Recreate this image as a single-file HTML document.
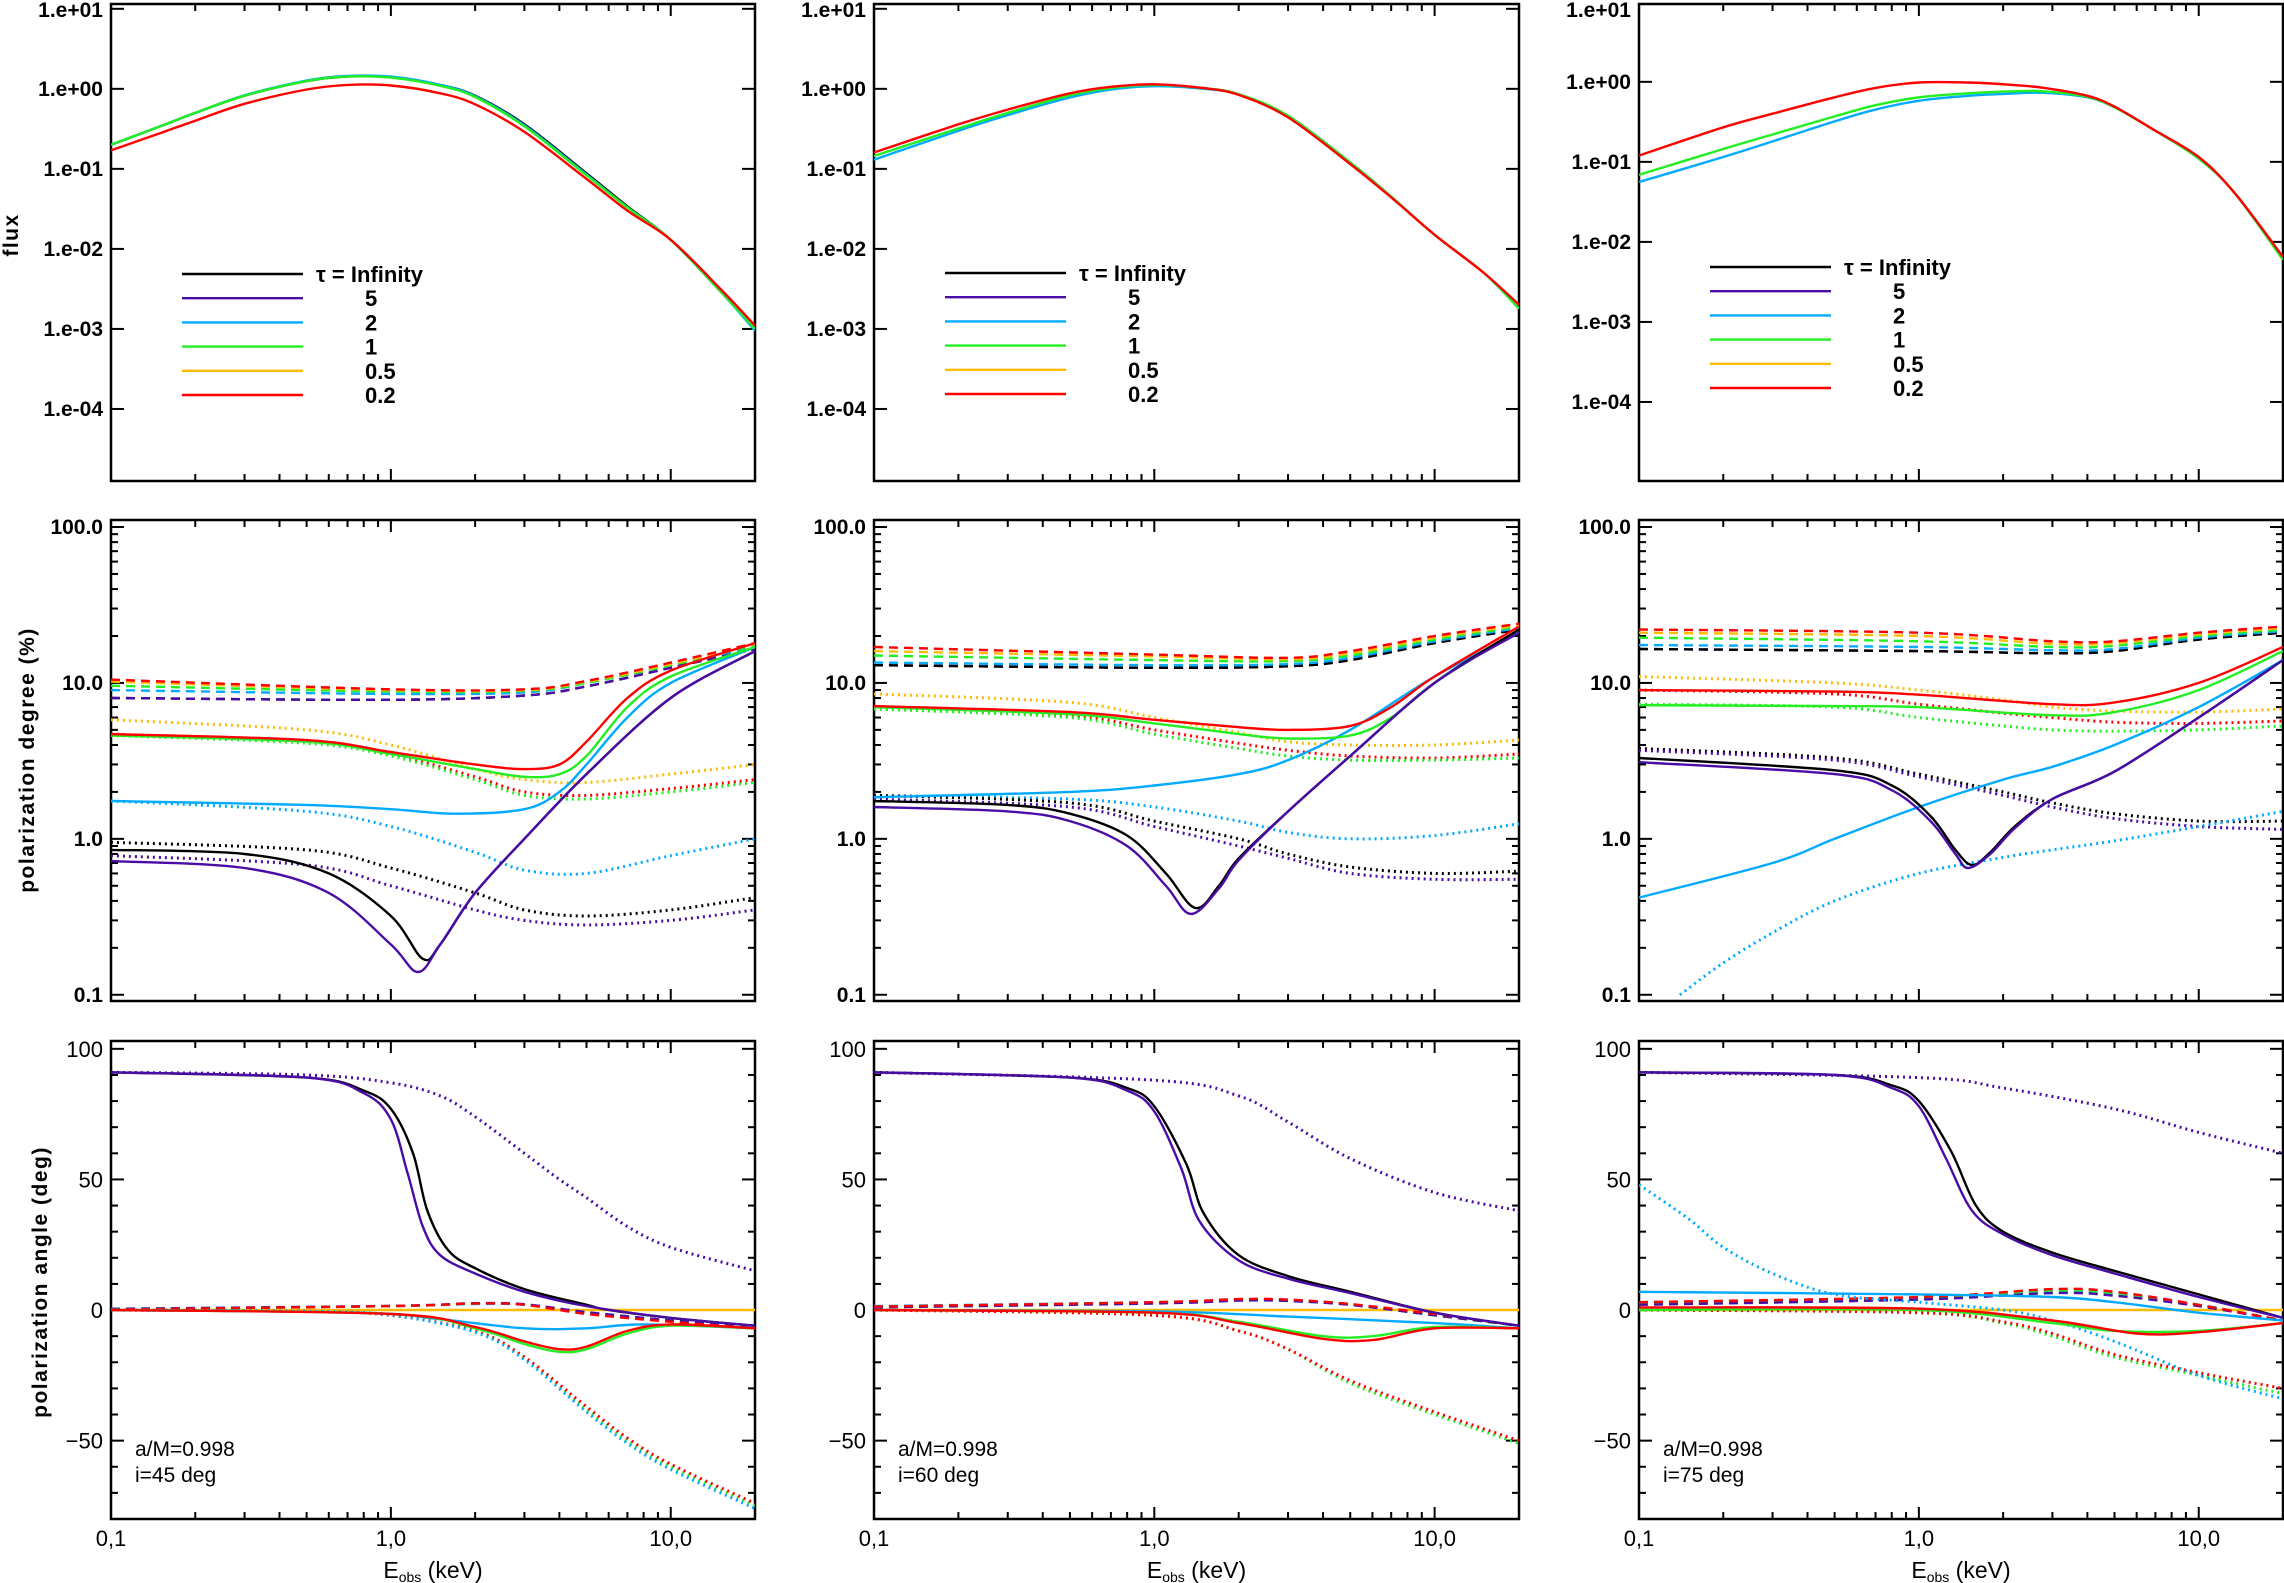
<!DOCTYPE html>
<html><head><meta charset="utf-8">
<style>
html,body{margin:0;padding:0;background:#fff;}
svg{display:block;font-family:"Liberation Sans",sans-serif;}
</style></head>
<body>
<svg id="fig" width="2284" height="1583" viewBox="0 0 2284 1583" xmlns="http://www.w3.org/2000/svg"></svg>
<script>
// ---------- data ----------
const seriesNames = ["inf","5","2","1","0.5","0.2"];
const seriesColors = ["#000000","#4a0ca6","#00aaff","#22ee22","#ffbb00","#ff0000"];
const legendLabels = ["τ = Infinity","5","2","1","0.5","0.2"];
const incLabels = ["i=45 deg","i=60 deg","i=75 deg"];

const flux45 = [
 [0,[[0.1,0.2],[0.15,0.34],[0.2,0.5],[0.3,0.82],[0.5,1.25],[0.7,1.43],[1,1.4],[1.5,1.12],[2,0.82],[3,0.36],[5,0.088],[7,0.034],[10,0.013],[15,0.003],[20,0.001]]],
 [2,[[0.1,0.2],[0.15,0.34],[0.2,0.5],[0.3,0.83],[0.5,1.27],[0.7,1.45],[1,1.42],[1.5,1.12],[2,0.81],[3,0.35],[5,0.085],[7,0.033],[10,0.013],[15,0.003],[20,0.00095]]],
 [3,[[0.1,0.2],[0.15,0.34],[0.2,0.5],[0.3,0.82],[0.5,1.25],[0.7,1.42],[1,1.38],[1.5,1.09],[2,0.79],[3,0.34],[5,0.083],[7,0.033],[10,0.013],[15,0.003],[20,0.001]]],
 [5,[[0.1,0.17],[0.15,0.28],[0.2,0.4],[0.3,0.65],[0.5,0.98],[0.7,1.12],[1,1.1],[1.5,0.88],[2,0.64],[3,0.29],[5,0.075],[7,0.03],[10,0.013],[15,0.0032],[20,0.0011]]]
];
const flux60 = [
 [2,[[0.1,0.13],[0.2,0.3],[0.3,0.47],[0.5,0.78],[0.7,0.98],[1,1.08],[1.5,1.0],[2,0.85],[3,0.46],[5,0.12],[7,0.045],[10,0.015],[15,0.005],[20,0.0018]]],
 [3,[[0.1,0.145],[0.2,0.32],[0.3,0.5],[0.5,0.83],[0.7,1.02],[1,1.12],[1.5,1.02],[2,0.86],[3,0.46],[5,0.12],[7,0.045],[10,0.015],[15,0.005],[20,0.0018]]],
 [5,[[0.1,0.16],[0.2,0.36],[0.3,0.55],[0.5,0.88],[0.7,1.06],[1,1.14],[1.5,1.02],[2,0.84],[3,0.44],[5,0.115],[7,0.044],[10,0.015],[15,0.005],[20,0.002]]]
];
const flux75 = [
 [2,[[0.1,0.056],[0.2,0.115],[0.3,0.18],[0.5,0.32],[0.7,0.45],[1,0.58],[1.5,0.67],[2.1,0.71],[2.8,0.73],[4,0.64],[5,0.48],[6.8,0.26],[10,0.11],[13.5,0.04],[20,0.006]]],
 [3,[[0.1,0.069],[0.2,0.145],[0.3,0.22],[0.5,0.37],[0.7,0.51],[1,0.64],[1.5,0.72],[2.1,0.76],[2.8,0.76],[4,0.65],[5,0.48],[6.8,0.26],[10,0.11],[13.5,0.04],[20,0.006]]],
 [5,[[0.1,0.12],[0.2,0.27],[0.3,0.4],[0.5,0.64],[0.7,0.84],[1,0.98],[1.5,0.98],[2.1,0.92],[2.8,0.84],[4,0.67],[5,0.49],[6.8,0.26],[10,0.115],[13.5,0.04],[20,0.0065]]]
];

const pd45 = [
 [0,"dash",[[0.1,8],[1,7.8],[3,8.3],[5,9.5],[10,12.5],[20,16.5]]],
 [1,"dash",[[0.1,8],[1,7.8],[3,8.3],[5,9.5],[10,12.5],[20,16.5]]],
 [2,"dash",[[0.1,9],[1,8.5],[3,8.7],[5,10],[10,13],[20,17]]],
 [3,"dash",[[0.1,9.6],[1,8.8],[3,8.9],[5,10],[10,13],[20,17.5]]],
 [4,"dash",[[0.1,10.2],[1,9],[3,9],[5,10.2],[10,13.2],[20,17.8]]],
 [5,"dash",[[0.1,10.5],[1,9.1],[3,9.1],[5,10.3],[10,13.5],[20,18]]],
 [4,"dot",[[0.1,5.8],[0.5,5],[1,4],[2,2.8],[3,2.4],[5,2.3],[10,2.6],[20,3.0]]],
 [5,"dot",[[0.1,4.7],[0.5,4.2],[1,3.5],[2,2.5],[3,2.0],[5,1.9],[10,2.1],[20,2.4]]],
 [3,"dot",[[0.1,4.6],[0.5,4.1],[1,3.4],[2,2.4],[3,1.9],[5,1.8],[10,2.0],[20,2.3]]],
 [2,"dot",[[0.1,1.75],[0.5,1.5],[1,1.2],[2,0.82],[3,0.63],[5,0.6],[10,0.78],[20,1.0]]],
 [0,"dot",[[0.1,0.95],[0.5,0.85],[1,0.65],[2,0.45],[3,0.35],[5,0.32],[10,0.35],[20,0.42]]],
 [1,"dot",[[0.1,0.78],[0.5,0.68],[1,0.5],[2,0.35],[3,0.3],[5,0.28],[10,0.3],[20,0.35]]],
 [2,"solid",[[0.1,1.75],[0.5,1.65],[1,1.55],[1.7,1.45],[3,1.55],[4,2.0],[5,3.0],[7,6],[10,10],[20,17]]],
 [3,"solid",[[0.1,4.6],[0.5,4.2],[1,3.5],[2,2.8],[3,2.5],[4,2.6],[5,3.4],[7,7],[10,11],[20,17]]],
 [5,"solid",[[0.1,4.7],[0.5,4.3],[1,3.6],[2,3.0],[3,2.8],[4,3.0],[5,4.2],[7,8],[10,12],[20,18]]],
 [0,"solid",[[0.1,0.85],[0.3,0.8],[0.6,0.6],[1.0,0.32],[1.3,0.17],[1.5,0.21],[2,0.45],[3,1.0],[5,2.6],[10,8],[20,16]]],
 [1,"solid",[[0.1,0.72],[0.3,0.65],[0.6,0.45],[1.0,0.21],[1.25,0.14],[1.5,0.21],[2,0.45],[3,1.0],[5,2.6],[10,8],[20,16]]]
];
const pd60 = [
 [1,"dash",[[0.1,13],[1,12.5],[3,12.8],[5,14],[10,18],[20,22]]],
 [0,"dash",[[0.1,13],[1,12.5],[3,12.8],[5,14],[10,18],[20,22]]],
 [2,"dash",[[0.1,13.5],[1,13],[3,13.2],[5,14.5],[10,18.5],[20,22.5]]],
 [3,"dash",[[0.1,15],[1,14],[3,13.8],[5,15],[10,19],[20,23]]],
 [4,"dash",[[0.1,16],[1,14.8],[3,14.2],[5,15.5],[10,19.5],[20,23.5]]],
 [5,"dash",[[0.1,17],[1,15.2],[3,14.5],[5,16],[10,20],[20,24]]],
 [4,"dot",[[0.1,8.5],[0.5,7.5],[1,6],[2,4.8],[3,4.2],[5,4],[10,4],[20,4.3]]],
 [5,"dot",[[0.1,7],[0.5,6.2],[1,5],[2,4.1],[3,3.7],[5,3.4],[10,3.3],[20,3.5]]],
 [3,"dot",[[0.1,6.8],[0.5,6],[1,4.7],[2,3.8],[3,3.4],[5,3.2],[10,3.2],[20,3.3]]],
 [2,"dot",[[0.1,1.9],[0.5,1.8],[1,1.6],[2,1.3],[3,1.1],[5,1.0],[10,1.05],[20,1.25]]],
 [0,"dot",[[0.1,1.9],[0.5,1.7],[1,1.3],[2,1.0],[3,0.8],[5,0.66],[10,0.6],[20,0.62]]],
 [1,"dot",[[0.1,1.8],[0.5,1.6],[1,1.2],[2,0.9],[3,0.75],[5,0.6],[10,0.55],[20,0.55]]],
 [2,"solid",[[0.1,1.85],[0.5,2.0],[1,2.2],[2,2.6],[3,3.2],[5,5],[10,11],[20,21]]],
 [3,"solid",[[0.1,7],[0.5,6.3],[1,5.5],[2,4.7],[3,4.4],[5,4.6],[7,6],[10,10],[20,22]]],
 [5,"solid",[[0.1,7.1],[0.5,6.5],[1,5.8],[2,5.2],[3,5.0],[5,5.3],[7,7],[10,11],[20,23]]],
 [0,"solid",[[0.1,1.75],[0.3,1.65],[0.5,1.45],[0.8,1.05],[1.1,0.6],[1.4,0.36],[1.7,0.5],[2,0.75],[3,1.5],[5,3.4],[10,10],[20,22]]],
 [1,"solid",[[0.1,1.6],[0.3,1.5],[0.5,1.3],[0.8,0.9],[1.1,0.5],[1.35,0.33],[1.7,0.48],[2,0.73],[3,1.5],[5,3.4],[10,10],[20,21]]]
];
const pd75 = [
 [1,"dash",[[0.1,16.5],[1,16],[3,15.5],[5,16],[10,19],[20,21]]],
 [0,"dash",[[0.1,16.5],[1,16],[3,15.5],[5,16],[10,19],[20,21]]],
 [2,"dash",[[0.1,17.5],[1,17],[3,16.2],[5,16.5],[10,19.5],[20,21.5]]],
 [3,"dash",[[0.1,19.5],[1,18.5],[3,17],[5,17.3],[10,20],[20,22]]],
 [4,"dash",[[0.1,21],[1,20],[3,17.8],[5,18],[10,20.5],[20,22.5]]],
 [5,"dash",[[0.1,22],[1,21],[3,18.5],[5,18.5],[10,21],[20,23]]],
 [4,"dot",[[0.1,11],[0.5,10],[1,9],[2,7.8],[3,7],[5,6.6],[10,6.5],[20,6.8]]],
 [5,"dot",[[0.1,9],[0.5,8.5],[1,7.3],[2,6.4],[3,6],[5,5.6],[10,5.5],[20,5.7]]],
 [3,"dot",[[0.1,7.3],[0.5,7],[1,6],[2,5.3],[3,5],[5,4.9],[10,5],[20,5.3]]],
 [0,"dot",[[0.1,3.8],[0.5,3.3],[1,2.6],[2,2.0],[3,1.7],[5,1.45],[10,1.3],[20,1.3]]],
 [1,"dot",[[0.1,3.7],[0.5,3.2],[1,2.5],[2,1.9],[3,1.6],[5,1.35],[10,1.2],[20,1.15]]],
 [2,"dot",[[0.14,0.1],[0.2,0.16],[0.3,0.25],[0.5,0.4],[1,0.6],[2,0.76],[3,0.85],[5,0.97],[10,1.2],[20,1.5]]],
 [3,"solid",[[0.1,7.2],[0.5,7.1],[1,7],[3,6.2],[5,6.5],[10,9],[20,16]]],
 [5,"solid",[[0.1,9],[0.5,8.8],[1,8.4],[3,7.3],[5,7.5],[10,10],[20,17]]],
 [2,"solid",[[0.1,0.42],[0.3,0.7],[0.5,1.0],[1,1.6],[2,2.4],[3,2.9],[5,4],[10,7],[20,14]]],
 [0,"solid",[[0.1,3.3],[0.5,2.75],[0.8,2.2],[1.1,1.4],[1.35,0.85],[1.55,0.68],[1.8,0.82],[2.2,1.2],[3,1.8],[5,2.7],[10,6],[20,14]]],
 [1,"solid",[[0.1,3.1],[0.5,2.6],[0.8,2.05],[1.1,1.3],[1.35,0.8],[1.5,0.65],[1.8,0.8],[2.2,1.17],[3,1.8],[5,2.7],[10,6],[20,14]]]
];

const pa45 = [
 [4,"solid",[[0.1,0],[20,0]]],
 [2,"dash",[[0.1,0.5],[1,1.5],[2,2.3],[3,2],[5,-1],[10,-4],[20,-7]]],
 [3,"dash",[[0.1,0.3],[1,1.5],[2,2.5],[3,2.2],[5,-1],[10,-4],[20,-7]]],
 [1,"dash",[[0.1,0.4],[1,1.6],[2,2.6],[3,2.2],[5,-0.8],[10,-4],[20,-7]]],
 [5,"dash",[[0.1,0.2],[1,1.5],[2,2.5],[3,2],[5,-1.5],[10,-4.5],[20,-7]]],
 [3,"dot",[[0.1,0],[0.5,-0.5],[1,-2],[2,-8],[3,-18],[5,-38],[7,-50],[10,-60],[20,-75]]],
 [5,"dot",[[0.1,0],[0.5,-0.5],[1,-2],[2,-8],[3,-18],[5,-37],[7,-49],[10,-59],[20,-74]]],
 [2,"dot",[[0.1,0],[0.5,-0.5],[1,-2],[2,-8.5],[3,-19],[5,-39],[7,-51],[10,-61],[20,-76]]],
 [1,"dot",[[0.1,91],[0.5,90],[1,87],[1.5,82],[2,74],[3,60],[4,50],[5,43],[7,32],[10,24],[20,15]]],
 [2,"solid",[[0.1,0],[0.8,-1],[1.5,-3.5],[3,-7],[5,-7],[8,-5.5],[20,-7]]],
 [3,"solid",[[0.1,0],[1,-1.5],[2,-7],[3,-13],[4,-16],[5,-15],[7,-9],[10,-6],[20,-7]]],
 [5,"solid",[[0.1,0],[1,-1.5],[2,-6.5],[3,-12],[4,-15],[5,-14],[7,-8],[10,-5.5],[20,-7]]],
 [0,"solid",[[0.1,91],[0.5,89],[0.8,84],[1.0,77],[1.2,60],[1.35,38],[1.6,23],[2,16],[3,8],[5,2],[6,0],[10,-3],[20,-6]]],
 [1,"solid",[[0.1,91],[0.5,89],[0.8,83],[1.0,73],[1.15,52],[1.3,32],[1.5,21],[2,14],[3,7],[5,1.5],[10,-3],[20,-6]]]
];
const pa60 = [
 [4,"solid",[[0.1,0],[20,0]]],
 [2,"dash",[[0.1,1.5],[1,3],[2,4],[3,3.5],[5,2],[10,-2],[20,-6]]],
 [3,"dash",[[0.1,1.2],[1,2.8],[2,4],[3,3.8],[5,2.2],[10,-2],[20,-6]]],
 [1,"dash",[[0.1,1],[1,2.5],[2,3.6],[3,3.5],[5,2],[10,-2],[20,-6]]],
 [5,"dash",[[0.1,1.3],[1,3],[2,4.2],[3,4],[5,2.3],[10,-1.5],[20,-6]]],
 [3,"dot",[[0.1,0],[1,-2],[2,-8],[3,-15],[5,-28],[10,-40],[20,-51]]],
 [5,"dot",[[0.1,0],[1,-2],[2,-8],[3,-15],[5,-27],[10,-39],[20,-50]]],
 [1,"dot",[[0.1,91],[1,88],[2,82],[3,72],[5,58],[10,45],[20,38]]],
 [2,"solid",[[0.1,0],[1,-0.5],[3,-2.5],[10,-5],[20,-7]]],
 [3,"solid",[[0.1,0],[1,-1],[2,-4.5],[4,-10],[6,-10],[10,-6.5],[20,-7]]],
 [5,"solid",[[0.1,0],[1,-1],[2,-5],[4,-11],[6,-11.5],[10,-7],[20,-7]]],
 [0,"solid",[[0.1,91],[0.5,89],[0.8,85],[1,78],[1.3,56],[1.5,37],[2,21],[3,13],[5,7],[10,-1],[20,-6]]],
 [1,"solid",[[0.1,91],[0.5,89],[0.8,84],[1,76],[1.25,54],[1.45,34],[2,19],[3,12],[5,6.5],[10,-1],[20,-6]]]
];
const pa75 = [
 [4,"solid",[[0.1,0],[20,0]]],
 [2,"dash",[[0.1,3],[1,4.5],[3,7],[5,6],[10,2],[20,-4]]],
 [3,"dash",[[0.1,2.5],[1,4.5],[3,7.5],[5,6.5],[10,2],[20,-4]]],
 [1,"dash",[[0.1,2],[1,4],[3,6.5],[5,5.5],[10,1.5],[20,-4]]],
 [5,"dash",[[0.1,3],[1,5],[3,8],[5,7],[10,2],[20,-4]]],
 [3,"dot",[[0.1,0],[1,-1],[2,-5],[3,-10],[5,-18],[10,-25],[20,-32]]],
 [5,"dot",[[0.1,0],[1,-1],[2,-4.5],[3,-9],[5,-17],[10,-24],[20,-30]]],
 [2,"dot",[[0.1,48],[0.15,35],[0.2,24],[0.3,14],[0.5,6],[1,3],[2,0],[3,-4],[5,-12],[10,-25],[20,-34]]],
 [1,"dot",[[0.1,91],[1,89],[2,85],[5,77],[10,68],[20,60]]],
 [2,"solid",[[0.1,7],[1,6],[3,5],[5,3],[10,-1],[20,-4]]],
 [3,"solid",[[0.1,0],[1,0],[3,-5],[5,-8],[10,-8],[20,-5]]],
 [5,"solid",[[0.1,1],[1,0.5],[3,-4],[6,-9],[10,-8.5],[20,-5]]],
 [0,"solid",[[0.1,91],[0.5,90],[0.8,86],[1,80],[1.3,61],[1.6,40],[2,30],[3,22],[5,15],[10,6],[20,-3]]],
 [1,"solid",[[0.1,91],[0.5,90],[0.8,85],[1,78],[1.25,58],[1.55,38],[2,29],[3,21],[5,14],[10,5],[20,-3]]]
];
const fluxData=[flux45,flux60,flux75], pdData=[pd45,pd60,pd75], paData=[pa45,pa60,pa75];
const fluxTicks=["1.e+01","1.e+00","1.e-01","1.e-02","1.e-03","1.e-04"];
const pdTicks=["100.0","10.0","1.0","0.1"];
const paTicks=["100","50","0","-50"];
const xTicks=["0,1","1,0","10,0"];

// ---------- layout ----------
const NS="http://www.w3.org/2000/svg";
const svg=document.getElementById('fig');
const COLS=[[111,755],[874,1519],[1639,2283]];
const ROWS=[[4,481],[520,1001],[1041,1519]];
const FLUX_SHIFT=[0,0,-7];
const XMIN=Math.log10(0.1), XMAX=Math.log10(20);
function mk(tag,attrs,parent){const e=document.createElementNS(NS,tag);for(const k in attrs)e.setAttribute(k,attrs[k]);(parent||svg).appendChild(e);return e;}
function xs(c,E){const [a,b]=COLS[c];return a+(Math.log10(E)-XMIN)/(XMAX-XMIN)*(b-a);}
let curCol=0;
function yFlux(v){const [t,b]=ROWS[0];return b-(Math.log10(v)+4.9)/(1.06+4.9)*(b-t)+FLUX_SHIFT[curCol];}
function yPd(v){const [t,b]=ROWS[1];return b-(Math.log10(v)+1.04)/(2.045+1.04)*(b-t);}
function yPa(v){const [t,b]=ROWS[2];return b-(v+80)/(103+80)*(b-t);}
function smoothPath(pts){
 let d="M"+pts[0][0].toFixed(1)+","+pts[0][1].toFixed(1);
 if(pts.length===2) return d+" L"+pts[1][0].toFixed(1)+","+pts[1][1].toFixed(1);
 for(let i=0;i<pts.length-1;i++){
  const p0=pts[Math.max(0,i-1)],p1=pts[i],p2=pts[i+1],p3=pts[Math.min(pts.length-1,i+2)];
  const c1=[p1[0]+(p2[0]-p0[0])/6,p1[1]+(p2[1]-p0[1])/6];
  const c2=[p2[0]-(p3[0]-p1[0])/6,p2[1]-(p3[1]-p1[1])/6];
  d+=" C"+c1.map(v=>v.toFixed(1)).join(",")+" "+c2.map(v=>v.toFixed(1)).join(",")+" "+p2[0].toFixed(1)+","+p2[1].toFixed(1);
 }
 return d;
}
const dashes={solid:null,dash:"9,6",dot:"2,4"};
function drawSeries(g,c,yf,s,style,pts,name){
 const p=mk('path',{d:smoothPath(pts.map(q=>[xs(c,q[0]),yf(q[1])])),fill:'none',stroke:seriesColors[s],'stroke-width':style==='dot'?3:2.4},g);
 if(dashes[style])p.setAttribute('stroke-dasharray',dashes[style]);
 
 
}
function frame(c,r,g){
 const [x0,x1]=COLS[c],[y0,y1]=ROWS[r];
 const cl=mk('clipPath',{id:'cl'+c+r},g);mk('rect',{x:x0,y:y0,width:x1-x0,height:y1-y0},cl);
 for(let dec=0.1;dec<20;dec*=10){for(let m=1;m<10;m++){const E=dec*m;if(E>20.001)break;const X=xs(c,E);const L=m===1?12:7;
  mk('line',{x1:X,y1:y1,x2:X,y2:y1-L,stroke:'#000','stroke-width':2},g);mk('line',{x1:X,y1:y0,x2:X,y2:y0+L,stroke:'#000','stroke-width':2},g);}}
 mk('rect',{x:x0,y:y0,width:x1-x0,height:y1-y0,fill:'none',stroke:'#000','stroke-width':2.5},g);
}
function yTick(c,Y,L,g){const [x0,x1]=COLS[c];mk('line',{x1:x0,y1:Y,x2:x0+L,y2:Y,stroke:'#000','stroke-width':2},g);mk('line',{x1:x1,y1:Y,x2:x1-L,y2:Y,stroke:'#000','stroke-width':2},g);}
function label(x,y,txt,size,anchor,g,name){const t=mk('text',{x:x,y:y,'font-size':size,'text-anchor':anchor||'end',fill:'#000'},g);t.textContent=txt;return t;}

for(let c=0;c<3;c++){
 curCol=c;
 let g=mk('g',{});
 frame(c,0,g);
 fluxTicks.forEach((t,i)=>{const Y=yFlux(Math.pow(10,1-i));if(Y>ROWS[0][0])yTick(c,Y,13,g);label(COLS[c][0]-8,Math.max(Y+7,17),t,21,'end',g,'flux-tick-label').setAttribute('font-weight','bold');});
 let dg=mk('g',{'clip-path':'url(#cl'+c+'0)'},g);
 fluxData[c].forEach(([s,pts])=>drawSeries(dg,c,yFlux,s,'solid',pts,'flux-line-tau-'+seriesNames[s]));
 let lg=mk('g',{},g);
 const lx=COLS[c][0]+71, ly=[274,273,267][c];
 legendLabels.forEach((t,i)=>{const Y=ly+i*24.2;
  const l=mk('line',{x1:lx,y1:Y,x2:lx+121,y2:Y,stroke:seriesColors[i],'stroke-width':2.4},lg);
  
  label(i===0?lx+134:lx+183,Y+8,t,22,'start',lg,'legend-entry').setAttribute('font-weight','bold');});

 g=mk('g',{});
 frame(c,1,g);
 for(let d=0.1;d<100;d*=10){for(let m=2;m<10;m++)yTick(c,yPd(d*m),7,g);}
 pdTicks.forEach((t,i)=>{const Y=yPd(Math.pow(10,2-i));yTick(c,Y,13,g);label(COLS[c][0]-8,Y+7,t,21,'end',g,'pd-tick-label').setAttribute('font-weight','bold');});
 dg=mk('g',{'clip-path':'url(#cl'+c+'1)'},g);
 pdData[c].forEach(([s,st,pts])=>drawSeries(dg,c,yPd,s,st,pts,'pd-'+st+'-tau-'+seriesNames[s]));

 g=mk('g',{});
 frame(c,2,g);
 for(let v=-70;v<=100;v+=10)yTick(c,yPa(v),v%50===0?13:7,g);
 paTicks.forEach(t=>{const Y=yPa(+t);label(COLS[c][0]-8,Y+8,t.replace('-','−'),22,'end',g,'pa-tick-label');});
 dg=mk('g',{'clip-path':'url(#cl'+c+'2)'},g);
 paData[c].forEach(([s,st,pts])=>drawSeries(dg,c,yPa,s,st,pts,'pa-'+st+'-tau-'+seriesNames[s]));
 label(COLS[c][0]+24,1456,'a/M=0.998',21,'start',g,'spin-annotation');
 label(COLS[c][0]+24,1482,incLabels[c],21,'start',g,'inclination-annotation');
 xTicks.forEach((t,i)=>label(xs(c,Math.pow(10,i-1)),1546,t,22,'middle',g,'x-tick-label'));
 const xt=label((COLS[c][0]+COLS[c][1])/2,1578,'',23,'middle',g,'x-axis-title');
 xt.innerHTML='E<tspan font-size="14" dy="4">obs</tspan><tspan dy="-4"> (keV)</tspan>';
}
function ytitle(x,y,txt,name){const t=mk('text',{x:0,y:0,'font-size':21,'font-weight':'bold','text-anchor':'middle',transform:'translate('+x+','+y+') rotate(-90)','letter-spacing':'1.5'});t.textContent=txt;}
ytitle(18,235,'flux','flux-y-title');
ytitle(34,760,'polarization degree (%)','pol-degree-y-title');
ytitle(47,1282,'polarization angle (deg)','pol-angle-y-title');
</script>
</body></html>
